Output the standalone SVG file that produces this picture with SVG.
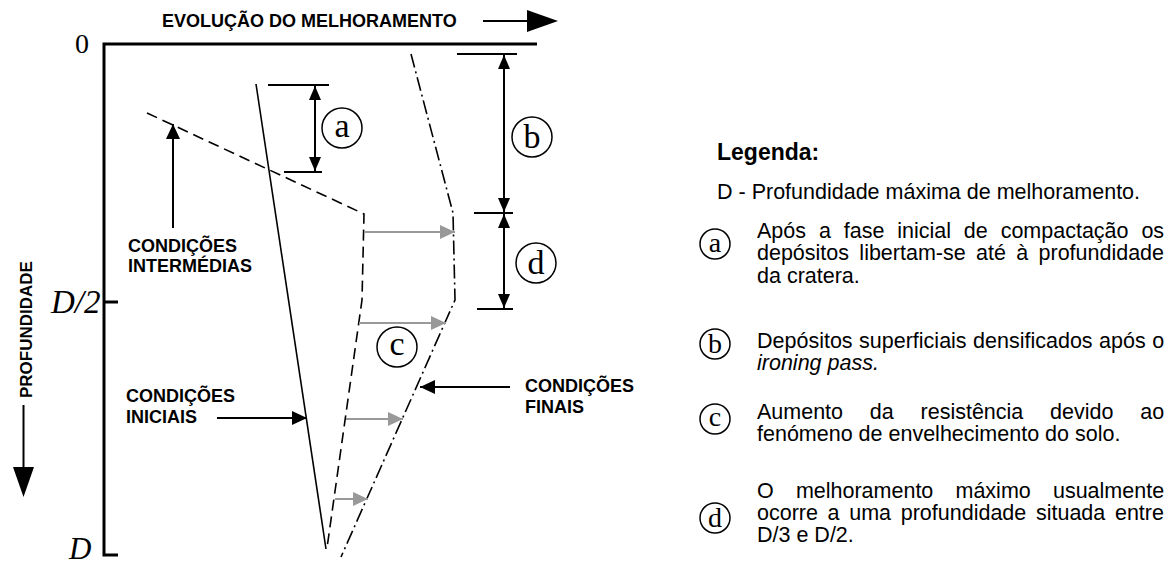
<svg xmlns="http://www.w3.org/2000/svg" width="1170" height="565" viewBox="0 0 1170 565">
<style>
.lab{font-family:"Liberation Sans",Arial,sans-serif;font-weight:bold;font-size:18px;fill:#000}
.leg{font-family:"Liberation Sans",Arial,sans-serif;font-size:21.5px;fill:#000}
.ser{font-family:"Liberation Serif","Times New Roman",serif;fill:#000}
.ax{stroke:#000;stroke-width:3;fill:none}
.ln{stroke:#000;stroke-width:1.6;fill:none}
.dash{stroke:#000;stroke-width:1.6;fill:none;stroke-dasharray:11,6}
.dd{stroke:#000;stroke-width:1.6;fill:none;stroke-dasharray:14,4,2,4}
.br{stroke:#000;stroke-width:2;fill:none}
.grey{stroke:#999;stroke-width:2.2;fill:none;marker-end:url(#ga)}
.cir{stroke:#000;stroke-width:1.5;fill:none}
</style>
<defs>
<marker id="ba" viewBox="0 0 14 12" refX="14" refY="6" markerWidth="14" markerHeight="12" markerUnits="userSpaceOnUse" orient="auto-start-reverse"><path d="M0,0 L14,6 L0,12 z" fill="#000"/></marker>
<marker id="la" viewBox="0 0 15 14" refX="15" refY="7" markerWidth="15" markerHeight="14" markerUnits="userSpaceOnUse" orient="auto"><path d="M0,0 L15,7 L0,14 z" fill="#000"/></marker>
<marker id="ga" viewBox="0 0 15 14" refX="15" refY="7" markerWidth="15" markerHeight="14" markerUnits="userSpaceOnUse" orient="auto"><path d="M0,0 L15,7 L0,14 z" fill="#999"/></marker>
</defs>

<g id="axes">
<path class="ax" d="M537,44 H104 V555 H118"/>
<path class="ax" d="M104,302 H118"/>
<text class="ser" x="75" y="53" style="font-size:28px">0</text>
<text class="ser" x="51" y="313" style="font-size:33px;font-style:italic">D/2</text>
<text class="ser" x="69" y="559" style="font-size:31px;font-style:italic">D</text>
</g>

<g id="title">
<text class="lab" x="162" y="27">EVOLUÇÃO DO MELHORAMENTO</text>
<path d="M483,21 H528" stroke="#000" stroke-width="2"/>
<polygon points="527,10 558,21 527,32" fill="#000"/>
</g>

<g id="depth-label">
<text class="lab" style="font-size:17px" transform="translate(32,398) rotate(-90)">PROFUNDIDADE</text>
<path d="M23.5,405 V468" stroke="#000" stroke-width="2"/>
<polygon points="13,467 34,467 23.5,497" fill="#000"/>
</g>

<g id="curve-initial">
<path class="ln" d="M256,84 L326,549"/>
</g>
<g id="curve-intermediate">
<path class="dash" d="M147,113 L364,214 L362,300 L327,548"/>
</g>
<g id="curve-final">
<path class="dd" d="M411,54 L453,213 L455,300 L341,557"/>
</g>

<g id="connectors">
<path class="grey" d="M365,232 H455"/>
<path class="grey" d="M359,323 H446"/>
<path class="grey" d="M346,419 H403"/>
<path class="grey" d="M335,499 H368"/>
<path class="br" d="M173,228 V124" marker-end="url(#la)"/>
<path class="br" d="M217,418 H307" marker-end="url(#la)"/>
<path class="br" d="M510,387 H420" marker-end="url(#la)"/>
</g>

<g id="bracket-a">
<path class="br" d="M268,85 H329 M284,172 H322"/>
<path class="br" d="M315,86 V171" marker-start="url(#ba)" marker-end="url(#ba)"/>
<circle class="cir" cx="342" cy="128" r="20"/>
<text class="ser" x="342" y="137" style="font-size:34px" text-anchor="middle">a</text>
</g>
<g id="bracket-b">
<path class="br" d="M457,54 H517 M474,213 H513"/>
<path class="br" d="M504,55 V212" marker-start="url(#ba)" marker-end="url(#ba)"/>
<circle class="cir" cx="532" cy="137" r="20"/>
<text class="ser" x="532" y="148" style="font-size:34px" text-anchor="middle">b</text>
</g>
<g id="bracket-d">
<path class="br" d="M477,309 H513"/>
<path class="br" d="M504,214 V308" marker-start="url(#ba)" marker-end="url(#ba)"/>
<circle class="cir" cx="536" cy="263" r="20"/>
<text class="ser" x="536" y="274" style="font-size:34px" text-anchor="middle">d</text>
</g>
<g id="label-c">
<circle class="cir" cx="397" cy="347" r="20"/>
<text class="ser" x="397" y="355" style="font-size:34px" text-anchor="middle">c</text>
</g>

<g id="label-intermediate">
<text class="lab" x="128" y="252">CONDIÇÕES</text>
<text class="lab" x="128" y="272">INTERMÉDIAS</text>
</g>
<g id="label-initial">
<text class="lab" x="126" y="402">CONDIÇÕES</text>
<text class="lab" x="126" y="423">INICIAIS</text>
</g>
<g id="label-final">
<text class="lab" x="525" y="392">CONDIÇÕES</text>
<text class="lab" x="525" y="413">FINAIS</text>
</g>

<g id="legend">
<text class="lab" x="717" y="160" style="font-size:23px">Legenda:</text>
<text class="leg" x="717" y="199">D - Profundidade máxima de melhoramento.</text>

<circle class="cir" cx="715" cy="244" r="15"/>
<text class="ser" x="715" y="252" style="font-size:28px" text-anchor="middle">a</text>
<text class="leg" x="757" y="238" style="word-spacing:6.9px">Após a fase inicial de compactação os</text>
<text class="leg" x="757" y="260" style="word-spacing:4.35px">depósitos libertam-se até à profundidade</text>
<text class="leg" x="757" y="283">da cratera.</text>

<circle class="cir" cx="715" cy="344" r="15"/>
<text class="ser" x="715" y="353" style="font-size:28px" text-anchor="middle">b</text>
<text class="leg" x="757" y="348" style="word-spacing:0.5px">Depósitos superficiais densificados após o</text>
<text class="leg" x="757" y="370" style="font-style:italic">ironing pass.</text>

<circle class="cir" cx="715" cy="419" r="15"/>
<text class="ser" x="715" y="426" style="font-size:28px" text-anchor="middle">c</text>
<text class="leg" x="757" y="419" style="word-spacing:20.8px">Aumento da resistência devido ao</text>
<text class="leg" x="757" y="441">fenómeno de envelhecimento do solo.</text>

<circle class="cir" cx="715" cy="518" r="15"/>
<text class="ser" x="715" y="527" style="font-size:28px" text-anchor="middle">d</text>
<text class="leg" x="757" y="498" style="word-spacing:16.2px">O melhoramento máximo usualmente</text>
<text class="leg" x="757" y="520" style="word-spacing:3.7px">ocorre a uma profundidade situada entre</text>
<text class="leg" x="757" y="542">D/3 e D/2.</text>
</g>
</svg>
